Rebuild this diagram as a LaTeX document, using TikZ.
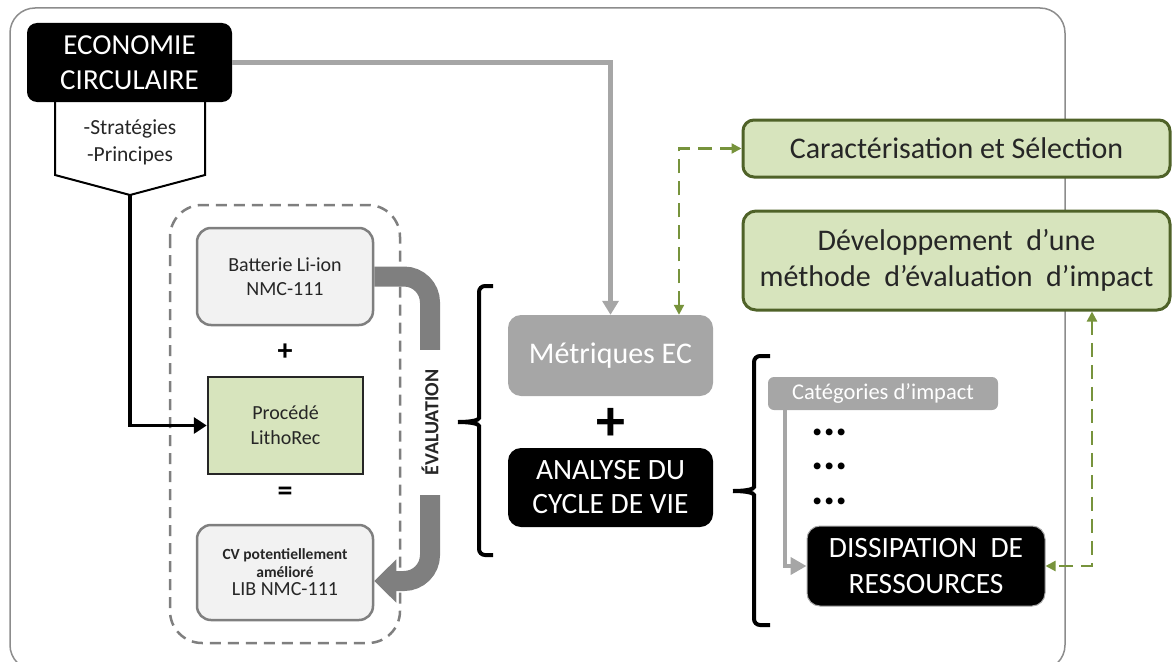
\documentclass[tikz,border=0pt]{standalone}
\usepackage{fontspec}
\setmainfont{Carlito}
\usetikzlibrary{arrows.meta,calc}
\definecolor{gfill}{HTML}{D7E4BD}
\definecolor{gborder}{HTML}{4F6228}
\definecolor{gline}{HTML}{77933C}
\definecolor{lgrey}{HTML}{A6A6A6}
\definecolor{mgrey}{HTML}{7F7F7F}
\definecolor{pale}{HTML}{F2F2F2}
\definecolor{txt}{HTML}{262626}
\tikzset{
  blackbox/.style={fill=black, text=white, rounded corners=10pt, align=center, inner sep=0pt},
  greybox/.style={fill=lgrey, text=white, rounded corners=10pt, align=center, inner sep=0pt},
  palebox/.style={fill=pale, draw=mgrey, line width=2.5pt, rounded corners=14pt, align=center, inner sep=0pt, text=txt},
  greenbox/.style={fill=gfill, draw=gborder, line width=3pt, rounded corners=11pt, align=center, inner sep=0pt, text=txt},
  procbox/.style={fill=gfill, draw=black!85, line width=2.5pt, align=center, inner sep=0pt, text=txt},
  greyarrow/.style={draw=lgrey, line width=4.2pt, -{Triangle[length=14pt,width=16pt]}},
  blackarrow/.style={draw=black, line width=3.6pt, -{Triangle[length=13pt,width=16pt]}},
  evalarrow/.style={draw=mgrey, line width=20pt, rounded corners=26pt, -{Triangle[length=22pt,width=42pt]}},
  gdash/.style={draw=gline, line width=2.2pt, dash pattern=on 14pt off 8pt, {Triangle[length=10pt,width=10pt]}-{Triangle[length=10pt,width=10pt]}},
  bracket/.style={draw=black, line width=4pt, rounded corners=6pt},
  sign/.style={font=\bfseries\fontsize{30}{30}\selectfont, inner sep=0pt},
  dots/.style={font=\bfseries\fontsize{46}{34.5}\selectfont, inner sep=0pt, align=center},
}
\begin{document}
\begin{tikzpicture}[x=1pt,y=-1pt]
\useasboundingbox (0,0) rectangle (1172,661);
% outer frame
\draw[draw=black!45, line width=1.5pt, rounded corners=25pt] (10,8) rectangle (1065,670);

% pentagon under ECONOMIE
\draw[fill=white, draw=black, line width=2pt, line join=miter] (55,95) -- (55,175) -- (130,195) -- (205,175) -- (205,95) -- cycle;
\coordinate (pent) at (130,195);
\node[align=center, inner sep=0pt, font=\fontsize{21.5}{27}\selectfont, text=txt] (strat) at (130,142) {-Stratégies\\-Principes};
\node[blackbox, minimum width=205pt, minimum height=79pt, font=\fontsize{29}{35}\selectfont] (eco) at (129.5,62.5) {ECONOMIE\\CIRCULAIRE};

% left group
\node[palebox, minimum width=176pt, minimum height=97pt, font=\fontsize{20}{24}\selectfont] (bat) at (285,276.5) {Batterie Li-ion\\NMC-111};
\node[sign] (plus1) at (285,352) {+};
\node[procbox, minimum width=155pt, minimum height=97pt, font=\fontsize{20}{25}\selectfont] (proc) at (285.5,425.5) {Procédé\\LithoRec};
\node[sign] (eq) at (285,494) {=};
\node[palebox, minimum width=176pt, minimum height=95pt, font=\bfseries\fontsize{15.5}{18}\selectfont] (cv) at (285,572.5) {CV potentiellement\\amélioré\\\normalfont\fontsize{20}{23}\selectfont LIB NMC-111};

% evaluation arrow
\draw[evalarrow] (bat.east) -| (430,581) -- ([yshift=-8.5pt]cv.east);
\node[fill=white, rotate=90, minimum width=145pt, minimum height=26pt, inner sep=0pt, font=\bfseries\fontsize{20}{20}\selectfont, text=txt] (eval) at (430,422.5) {ÉVALUATION};

% dashed group frame
\draw[draw=mgrey, line width=2.5pt, dash pattern=on 11pt off 7pt, rounded corners=32pt] (170,205) rectangle (400,643);

% black arrow
\draw[blackarrow] (pent) |- (proc.west);

% first bracket
\draw[bracket] (493,286) -- (479,286) -- (479,412) .. controls (479,420) and (472,422) .. (458,422);
\draw[bracket] (458,422) .. controls (472,422) and (479,424) .. (479,432) -- (479,555) -- (493,555);

% middle group
\node[greybox, minimum width=205pt, minimum height=81pt, rounded corners=13pt, font=\fontsize{30}{30}\selectfont] (met) at (610.5,355.5) {Métriques EC};
\node[inner sep=0pt, font=\bfseries\fontsize{58}{58}\selectfont] (bigplus) at (610.5,424) {+};
\node[blackbox, minimum width=205pt, minimum height=79pt, rounded corners=13pt, font=\fontsize{29.5}{34}\selectfont] (acv) at (610.5,487.5) {ANALYSE DU\\CYCLE DE VIE};

% second bracket
\draw[bracket] (770,356) -- (754,356) -- (754,481) .. controls (754,489) and (747,491) .. (733,491);
\draw[bracket] (733,491) .. controls (747,491) and (754,493) .. (754,501) -- (754,625) -- (770,625);

% right group
\node[greybox, minimum width=230pt, minimum height=33pt, rounded corners=6pt, font=\fontsize{22.5}{24}\selectfont] (cat) at (883,393.5) {Catégories d’impact};
\node[dots] (dots) at (829.5,466.5) {...\\...\\...};
\node[blackbox, draw=lgrey, line width=1pt, minimum width=238pt, minimum height=80pt, rounded corners=13pt, font=\fontsize{29.5}{36}\selectfont] (dis) at (926,566) {DISSIPATION~ DE\\RESSOURCES};
\draw[draw=lgrey, line width=4pt, -{Triangle[length=16pt,width=17pt]}] ([xshift=-98pt]cat.south) |- (dis.west);

% green boxes
\node[greenbox, minimum width=427pt, minimum height=57pt, font=\fontsize{30}{30}\selectfont] (car) at (956.5,148.5) {Caractérisation et Sélection};
\node[greenbox, minimum width=427pt, minimum height=99pt, rounded corners=13pt, font=\fontsize{30}{36}\selectfont] (dev) at (956.5,260.5) {Développement~ d’une\\méthode~ d’évaluation~ d’impact};

% connectors
\draw[greyarrow] (eco.east) -| (met.north);
\draw[gdash] ([xshift=68.5pt]met.north) |- (car.west);
\draw[gdash] ([xshift=135.5pt]dev.south) |- (dis.east);
\end{tikzpicture}
\end{document}
